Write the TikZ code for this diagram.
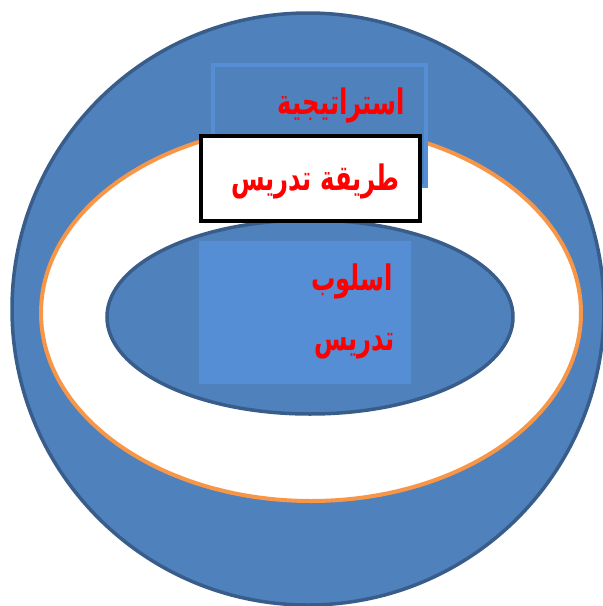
\documentclass[tikz,border=0pt]{standalone}
\usepackage{fontspec}
\usepackage{graphicx}
\TeXXeTstate=1
\newfontfamily\arabicfont[Script=Arabic]{DejaVu Sans}
\definecolor{cblue}{HTML}{4F81BD}
\definecolor{cdark}{HTML}{385D8A}
\definecolor{clight}{HTML}{558ED5}
\definecolor{corange}{HTML}{F79646}
\newcommand{\artext}[1]{\scalebox{0.9}[1.3]{\beginR #1\endR}}
\tikzset{
  artxt/.style={text=red, font=\arabicfont\bfseries\fontsize{27}{32}\selectfont, inner sep=0pt},
}
\begin{document}
\begin{tikzpicture}[x=1pt,y=-1pt]
\useasboundingbox (0,0) rectangle (603,606);
\begin{scope}
\clip (0,0) rectangle (603,606);
\draw[fill=cblue, draw=cdark, line width=3.5pt] (308,309) circle [x radius=296, y radius=296];
\draw[fill=white, draw=corange, line width=4pt] (311,313) ellipse [x radius=270, y radius=188];
\draw[fill=cblue, draw=cdark, line width=3.5pt] (310,317) ellipse [x radius=203, y radius=97];
\fill[clight] (199,241) rectangle (411,384);
\draw[fill=cblue, draw=clight, line width=4pt] (213,65) rectangle (426,186);
\draw[fill=white, draw=black, line width=4pt] (201,136) rectangle (420,221);
\end{scope}
\node[artxt, anchor=east] (strat) at (405,105) {\artext{استراتيجية}};
\node[artxt, anchor=east] (method) at (400,181) {\artext{طريقة تدريس}};
\node[artxt, anchor=east] (style1) at (393,281) {\artext{اسلوب}};
\node[artxt, anchor=east] (style2) at (395,346) {\artext{تدريس}};
\end{tikzpicture}
\end{document}
